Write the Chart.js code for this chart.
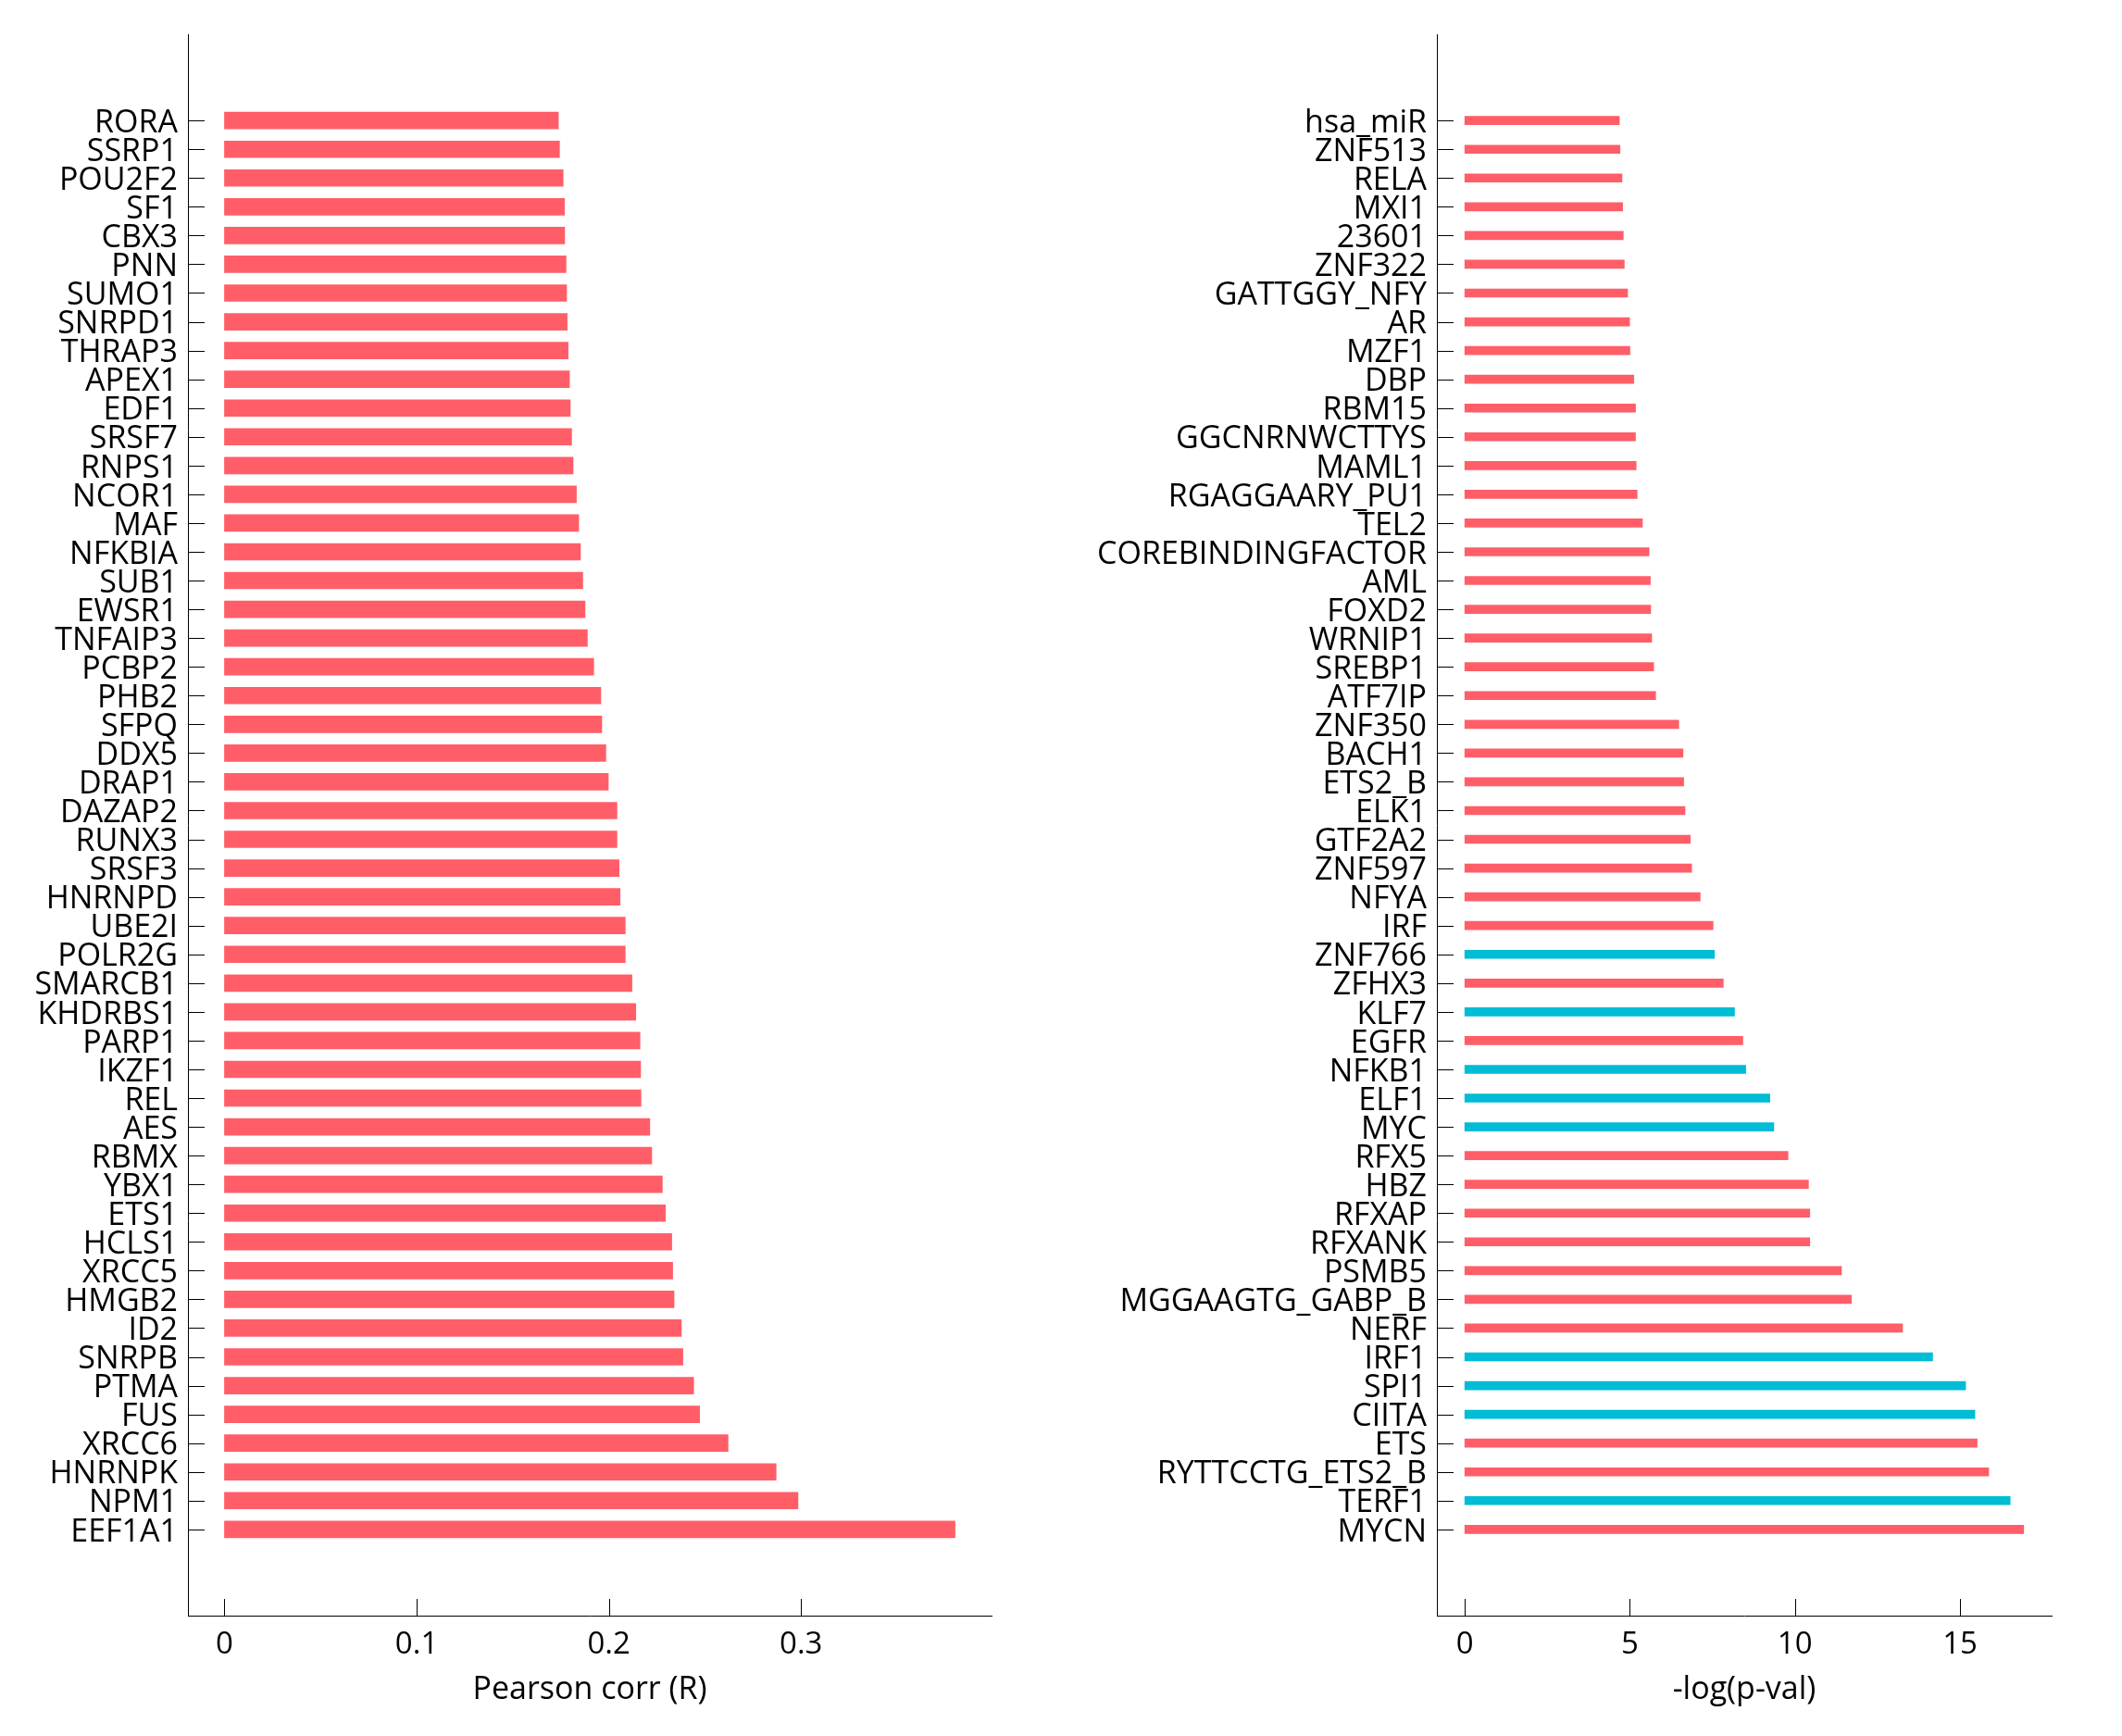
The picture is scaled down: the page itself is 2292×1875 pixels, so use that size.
<!DOCTYPE html>
<html>
<head>
<meta charset="utf-8">
<script src="https://cdn.jsdelivr.net/npm/chart.js@4"></script>
<style>
  body { margin: 0; background: #fff; }
  .panel { position: absolute; top: 0; width: 1146px; height: 1875px; }
</style>
</head>
<body>
<div class="panel" style="left:0"><canvas id="left-chart" width="1146" height="1875"></canvas></div>
<div class="panel" style="left:1146px"><canvas id="right-chart" width="1146" height="1875"></canvas></div>
<script>
'use strict';

let leftLabels = ['RORA', 'SSRP1', 'POU2F2', 'SF1', 'CBX3', 'PNN', 'SUMO1', 'SNRPD1', 'THRAP3', 'APEX1',
  'EDF1', 'SRSF7', 'RNPS1', 'NCOR1', 'MAF', 'NFKBIA', 'SUB1', 'EWSR1', 'TNFAIP3', 'PCBP2',
  'PHB2', 'SFPQ', 'DDX5', 'DRAP1', 'DAZAP2', 'RUNX3', 'SRSF3', 'HNRNPD', 'UBE2I', 'POLR2G',
  'SMARCB1', 'KHDRBS1', 'PARP1', 'IKZF1', 'REL', 'AES', 'RBMX', 'YBX1', 'ETS1', 'HCLS1',
  'XRCC5', 'HMGB2', 'ID2', 'SNRPB', 'PTMA', 'FUS', 'XRCC6', 'HNRNPK', 'NPM1', 'EEF1A1'];

let leftValues = [0.1737, 0.1743, 0.1762, 0.1769, 0.1770, 0.1777, 0.1780, 0.1783, 0.1788, 0.1795,
  0.1799, 0.1806, 0.1814, 0.1831, 0.1843, 0.1852, 0.1864, 0.1876, 0.1888, 0.1921,
  0.1958, 0.1963, 0.1984, 0.1997, 0.2042, 0.2042, 0.2053, 0.2058, 0.2085, 0.2085,
  0.2120, 0.2140, 0.2162, 0.2165, 0.2167, 0.2213, 0.2223, 0.2278, 0.2294, 0.2327,
  0.2332, 0.2339, 0.2377, 0.2385, 0.2441, 0.2472, 0.2620, 0.2870, 0.2984, 0.3801];

let leftTicks = [0, 0.1, 0.2, 0.3];

let rightLabels = ['hsa_miR', 'ZNF513', 'RELA', 'MXI1', '23601', 'ZNF322', 'GATTGGY_NFY', 'AR', 'MZF1', 'DBP',
  'RBM15', 'GGCNRNWCTTYS', 'MAML1', 'RGAGGAARY_PU1', 'TEL2', 'COREBINDINGFACTOR', 'AML', 'FOXD2', 'WRNIP1', 'SREBP1',
  'ATF7IP', 'ZNF350', 'BACH1', 'ETS2_B', 'ELK1', 'GTF2A2', 'ZNF597', 'NFYA', 'IRF', 'ZNF766',
  'ZFHX3', 'KLF7', 'EGFR', 'NFKB1', 'ELF1', 'MYC', 'RFX5', 'HBZ', 'RFXAP', 'RFXANK',
  'PSMB5', 'MGGAAGTG_GABP_B', 'NERF', 'IRF1', 'SPI1', 'CIITA', 'ETS', 'RYTTCCTG_ETS2_B', 'TERF1', 'MYCN'];

let rightValues = [4.68, 4.70, 4.76, 4.78, 4.80, 4.83, 4.93, 4.99, 5.00, 5.12,
  5.17, 5.17, 5.19, 5.22, 5.38, 5.58, 5.62, 5.63, 5.66, 5.72,
  5.78, 6.48, 6.61, 6.63, 6.67, 6.83, 6.87, 7.13, 7.52, 7.56,
  7.83, 8.17, 8.42, 8.51, 9.24, 9.36, 9.79, 10.41, 10.45, 10.45,
  11.41, 11.71, 13.26, 14.17, 15.17, 15.45, 15.52, 15.87, 16.52, 16.93];

let rightHighlighted = ['ZNF766', 'KLF7', 'NFKB1', 'ELF1', 'MYC', 'IRF1', 'SPI1', 'CIITA', 'TERF1'];

let rightTicks = [0, 5, 10, 15];

const RED = 'rgb(255, 94, 105)';
const CYAN = 'rgb(0, 188, 212)';
const FONT = '"Open Sans", "DejaVu Sans", sans-serif';

// tick marks point inward, so draw them over the plot
let innerTicks = {
  id: 'innerTicks',
  afterDraw(chart) {
    let ctx = chart.ctx;
    let area = chart.chartArea;
    ctx.save();
    ctx.strokeStyle = '#000';
    ctx.lineWidth = 1;
    ctx.beginPath();
    chart.scales.x.ticks.forEach(function (t) {
      let px = Math.round(chart.scales.x.getPixelForValue(t.value)) + 0.5;
      ctx.moveTo(px, area.bottom);
      ctx.lineTo(px, area.bottom - 18);
    });
    chart.scales.y.ticks.forEach(function (t) {
      let py = Math.round(chart.scales.y.getPixelForValue(t.value)) + 0.5;
      ctx.moveTo(area.left, py);
      ctx.lineTo(area.left + 18, py);
    });
    ctx.stroke();
    ctx.restore();
  }
};

function renderChart(canvasId, labels, values, colors, tickValues, title, barHeight, axisWidth, rightPad) {
  let points = [];
  for (let i = 0; i < values.length; i++) {
    points.push({ x: values[i], y: i });
  }
  let maxVal = Math.max.apply(null, values);

  let chartObj = {
    type: 'bar',
    data: {
      datasets: [{
        data: points,
        backgroundColor: colors,
        borderWidth: 0,
        barThickness: barHeight
      }]
    },
    plugins: [innerTicks],
    options: {
      indexAxis: 'y',
      responsive: false,
      animation: false,
      devicePixelRatio: 1,
      layout: { padding: { top: 37, right: rightPad, left: 0, bottom: 0 } },
      plugins: { legend: { display: false }, tooltip: { enabled: false } },
      scales: {
        x: {
          type: 'linear',
          min: -0.05 * maxVal,
          max: 1.05 * maxVal,
          grid: { display: false, drawTicks: false },
          border: { display: true, color: '#000', width: 1 },
          afterBuildTicks: function (scale) {
            scale.ticks = tickValues.map(function (v) { return { value: v }; });
          },
          afterFit: function (scale) { scale.height = 130; },
          ticks: {
            color: '#000',
            padding: 12,
            font: { family: FONT, size: 33, weight: 500 },
            callback: function (v) { return String(v); }
          },
          title: {
            display: true,
            text: title,
            color: '#000',
            font: { family: FONT, size: 34, weight: 500 },
            padding: { top: 4, bottom: 29 }
          }
        },
        y: {
          type: 'linear',
          reverse: true,
          offset: false,
          min: -3,
          max: 52,
          grid: { display: false, drawTicks: false, offset: false },
          border: { display: true, color: '#000', width: 1 },
          afterBuildTicks: function (scale) {
            scale.ticks = labels.map(function (name, i) { return { value: i }; });
          },
          afterFit: function (scale) { scale.width = axisWidth; },
          ticks: {
            autoSkip: false,
            color: '#000',
            padding: 11,
            labelOffset: 3,
            font: { family: FONT, size: 34, weight: 500 },
            callback: function (v) { return labels[v]; }
          }
        }
      }
    }
  };
  new Chart(document.getElementById(canvasId), chartObj);
}

let leftColors = leftLabels.map(function () { return RED; });
let rightColors = rightLabels.map(function (name) {
  return rightHighlighted.indexOf(name) >= 0 ? CYAN : RED;
});

renderChart('left-chart', leftLabels, leftValues, leftColors, leftTicks, 'Pearson corr (R)', 18, 203, 75);
renderChart('right-chart', rightLabels, rightValues, rightColors, rightTicks, '-log(p-val)', 9, 406, 76);
</script>
</body>
</html>
